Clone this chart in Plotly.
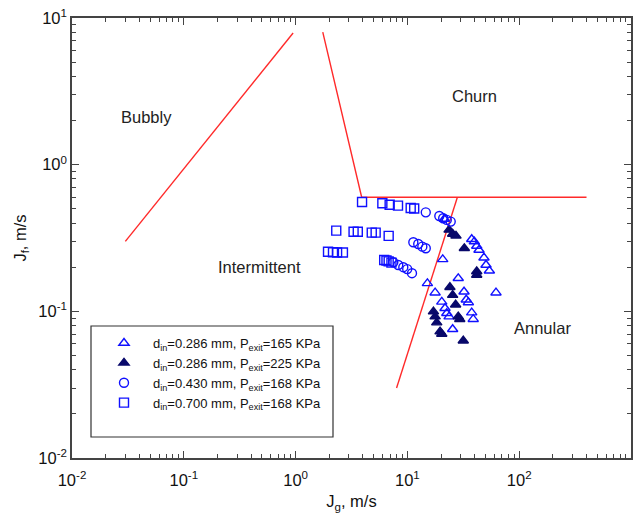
import numpy as np
import plotly.graph_objects as go

# Measured superficial velocities (m/s)
jg_286_165 = [21.4, 37.6, 39.7, 41.7, 43.7, 20.7, 48.4, 50.5, 54.1, 28.5, 15.1, 17.7,
              32.1, 33.6, 35.1, 62.0, 20.3, 21.7, 22.5, 23.6, 37.6, 38.8, 25.4]
jf_286_165 = [0.426, 0.31, 0.299, 0.279, 0.262, 0.226, 0.232, 0.207, 0.189, 0.168, 0.155, 0.134,
              0.136, 0.12, 0.115, 0.134, 0.116, 0.105, 0.097, 0.092, 0.098, 0.0884, 0.0755]

jg_286_225 = [23.6, 25.4, 27.2, 32.3, 41.7, 41.7, 24.0, 25.4, 27.0, 17.1, 17.7, 18.3,
              28.5, 29.4, 19.6, 20.3, 31.6]
jf_286_225 = [0.359, 0.337, 0.327, 0.269, 0.187, 0.177, 0.146, 0.129, 0.111, 0.0995, 0.092, 0.0838,
              0.092, 0.0884, 0.0727, 0.070, 0.063]

jg_430_168 = [7.48, 8.28, 9.19, 9.96, 10.99, 11.3, 12.5, 13.6, 14.6, 14.6, 19.3, 20.9, 22.5, 24.4]
jf_430_168 = [0.216, 0.207, 0.200, 0.194, 0.182, 0.296, 0.288, 0.276, 0.269, 0.473, 0.447, 0.431,
              0.42, 0.409]

jg_700_168 = [3.93, 5.97, 6.94, 8.24, 10.7, 11.5, 2.31, 3.3, 3.6, 4.8, 5.2, 6.8,
              1.95, 2.16, 2.35, 2.65, 6.2, 6.5, 6.8, 7.2]
jf_700_168 = [0.557, 0.546, 0.533, 0.526, 0.506, 0.502, 0.355, 0.349, 0.349, 0.344, 0.344, 0.327,
              0.255, 0.253, 0.252, 0.252, 0.224, 0.222, 0.219, 0.215]

# Flow regime transition boundaries
bubbly_jg = [0.03, 0.95]
bubbly_jf = [0.3, 7.9]
churn_jg = [1.75, 3.9, 400]
churn_jf = [8.0, 0.6, 0.6]
annular_jg = [8.0, 28.0]
annular_jf = [0.03, 0.6]

regime_names = ["Bubbly", "Churn", "Intermittent", "Annular"]
regime_jg = [0.046, 39.7, 0.473, 163]
regime_jf = [2.11, 2.95, 0.2, 0.077]

# Decade ticks
x_decades = [-2, -1, 0, 1, 2, 3]
y_decades = [-2, -1, 0, 1]
x_ticktext = ["10<sup>-2</sup>", "10<sup>-1</sup>", "10<sup>0</sup>", "10<sup>1</sup>",
              "10<sup>2</sup>", "10<sup>3</sup>"]
y_ticktext = ["10<sup>-2</sup>", "10<sup>-1</sup>", "10<sup>0</sup>", "10<sup>1</sup>"]

BLUE = "#1010ff"
NAVY = "#08086a"
RED = "#ff2a2a"
FONT = "Liberation Sans, Arial, sans-serif"

fig = go.Figure()

for xs, ys in [(bubbly_jg, bubbly_jf), (churn_jg, churn_jf), (annular_jg, annular_jf)]:
    fig.add_trace(go.Scatter(x=xs, y=ys, mode="lines", line=dict(color=RED, width=1.4),
                             showlegend=False, hoverinfo="skip"))

series = [
    (jg_286_165, jf_286_165, "d<sub>in</sub>=0.286 mm, P<sub>exit</sub>=165 KPa",
     "triangle-up-open", BLUE, 9),
    (jg_286_225, jf_286_225, "d<sub>in</sub>=0.286 mm, P<sub>exit</sub>=225 KPa",
     "triangle-up", NAVY, 9),
    (jg_430_168, jf_430_168, "d<sub>in</sub>=0.430 mm, P<sub>exit</sub>=168 KPa",
     "circle-open", BLUE, 9),
    (jg_700_168, jf_700_168, "d<sub>in</sub>=0.700 mm, P<sub>exit</sub>=168 KPa",
     "square-open", BLUE, 9),
]
for xs, ys, name, sym, col, size in series:
    fig.add_trace(go.Scatter(
        x=xs, y=ys, mode="markers", name=name,
        marker=dict(symbol=sym, size=size, color=col, line=dict(color=col, width=1.4)),
    ))

for name, gx, fy in zip(regime_names, regime_jg, regime_jf):
    fig.add_annotation(x=np.log10(gx), y=np.log10(fy), xref="x", yref="y", text=name,
                       showarrow=False, font=dict(family=FONT, size=16.5, color="#222222"))

axis_common = dict(
    type="log", automargin=False,
    showline=True, linecolor="#444444", linewidth=1.5, mirror="allticks",
    ticks="inside", ticklen=7, tickwidth=1, tickcolor="#444444",
    showgrid=False, zeroline=False,
    tickfont=dict(family=FONT, size=16.5, color="#111111"),
    minor=dict(ticks="inside", ticklen=4, tickcolor="#444444", dtick="D1", showgrid=False),
)

fig.update_xaxes(range=[-2, 3], tickvals=[10.0 ** d for d in x_decades], ticktext=x_ticktext,
                 ticklabelstandoff=6,
                 title=dict(text="J<sub>g</sub>, m/s", font=dict(family=FONT, size=16.5, color="#111111"),
                            standoff=8),
                 **axis_common)
fig.update_yaxes(range=[-2, 1], tickvals=[10.0 ** d for d in y_decades], ticktext=y_ticktext,
                 title=dict(text="J<sub>f</sub>, m/s", font=dict(family=FONT, size=16.5, color="#111111"),
                            standoff=8),
                 **axis_common)

# Legend frame
fig.add_shape(type="rect", xref="paper", yref="paper",
              x0=(91 - 72) / 559, x1=(333 - 72) / 559,
              y0=(458 - 437) / 440, y1=(458 - 326) / 440,
              line=dict(color="#333333", width=1.2), fillcolor="white", layer="below")

fig.update_layout(
    width=643, height=522,
    margin=dict(l=72, r=12, t=18, b=64, autoexpand=False),
    paper_bgcolor="white", plot_bgcolor="white",
    font=dict(family=FONT, size=12, color="#111111"),
    legend=dict(x=(95 - 72) / 559, y=(458 - 328) / 440, xanchor="left", yanchor="top",
                bgcolor="rgba(0,0,0,0)", borderwidth=0, tracegroupgap=0, itemwidth=48,
                font=dict(family=FONT, size=13, color="#111111")),
)

fig.write_html("out.html")
